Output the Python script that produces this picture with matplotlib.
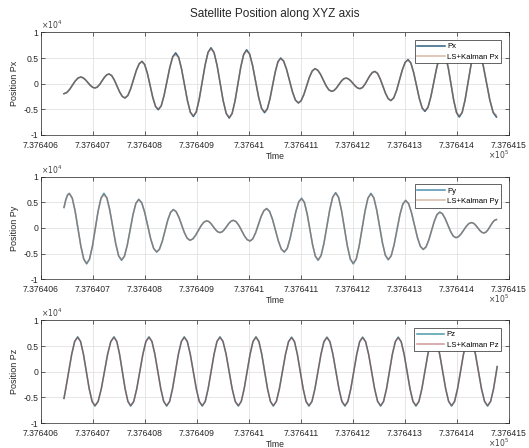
import numpy as np
import matplotlib
matplotlib.use("Agg")
import matplotlib.pyplot as plt
from matplotlib.ticker import FuncFormatter

plt.rcParams["font.family"] = ["Liberation Sans", "DejaVu Sans"]

# time axis is a MATLAB datenum (days); offsets below are days after T0
T0 = 737640.6

# ---- Px, top panel (one row per half swing, starting at a turning point)
px_t = [0.0442, 0.0496, 0.0549, 0.0603, 0.0656, 0.0710,
        0.0763, 0.0809, 0.0855, 0.0901, 0.0946, 0.0992,
        0.1038, 0.1083, 0.1128, 0.1173, 0.1218, 0.1263,
        0.1308, 0.1359, 0.1410, 0.1462, 0.1513, 0.1564,
        0.1615, 0.1670, 0.1724, 0.1779, 0.1833, 0.1888,
        0.1942, 0.1994, 0.2047, 0.2099, 0.2151, 0.2204,
        0.2256, 0.2312, 0.2367, 0.2423, 0.2479, 0.2534,
        0.2590, 0.2647, 0.2703, 0.2760, 0.2817, 0.2873,
        0.2930, 0.2987, 0.3043, 0.3100, 0.3157, 0.3213,
        0.3270, 0.3328, 0.3387, 0.3445, 0.3503, 0.3562,
        0.3620, 0.3676, 0.3732, 0.3788, 0.3843, 0.3899,
        0.3955, 0.4013, 0.4070, 0.4128, 0.4185, 0.4243,
        0.4300, 0.4352, 0.4403, 0.4455, 0.4507, 0.4558,
        0.4610, 0.4667, 0.4723, 0.4780, 0.4837, 0.4893,
        0.4950, 0.5003, 0.5057, 0.5110, 0.5163, 0.5217,
        0.5270, 0.5323, 0.5377, 0.5430, 0.5483, 0.5537,
        0.5590, 0.5636, 0.5682, 0.5728, 0.5773, 0.5819,
        0.5865, 0.5910, 0.5955, 0.6000, 0.6045, 0.6090,
        0.6135, 0.6183, 0.6230, 0.6278, 0.6325, 0.6373,
        0.6420, 0.6472, 0.6523, 0.6575, 0.6627, 0.6678,
        0.6730, 0.6785, 0.6840, 0.6895, 0.6950, 0.7005,
        0.7060, 0.7114, 0.7168, 0.7223, 0.7277, 0.7331,
        0.7385, 0.7443, 0.7500, 0.7558, 0.7615, 0.7673,
        0.7730, 0.7783, 0.7835, 0.7888, 0.7940, 0.7993,
        0.8045, 0.8101, 0.8157, 0.8213, 0.8268, 0.8324,
        0.8380, 0.8443, 0.8507, 0.8570, 0.8633, 0.8697,
        0.8760]
px_meas = [-1950, -1732, -1138, -325, 488, 1082,
           1300, 1157, 765, 230, -305, -697,
           -840, -656, -155, 530, 1215, 1716,
           1900, 1585, 725, -450, -1625, -2485,
           -2800, -2320, -1010, 780, 2570, 3880,
           4360, 3728, 2000, -360, -2720, -4448,
           -5080, -4338, -2310, 460, 3230, 5258,
           6000, 5169, 2900, -200, -3300, -5569,
           -6400, -5502, -3050, 300, 3650, 6102,
           7000, 6082, 3575, 150, -3275, -5782,
           -6700, -5809, -3375, -50, 3275, 5709,
           6600, 5779, 3538, 475, -2588, -4829,
           -5650, -4936, -2988, -325, 2338, 4286,
           5000, 4412, 2808, 615, -1578, -3182,
           -3770, -3321, -2095, -420, 1255, 2481,
           2930, 2633, 1823, 715, -393, -1203,
           -1500, -1326, -850, -200, 450, 926,
           1100, 961, 580, 60, -460, -841,
           -980, -754, -135, 710, 1555, 2174,
           2400, 2018, 975, -450, -1875, -2918,
           -3300, -2764, -1300, 700, 2700, 4164,
           4700, 4023, 2175, -350, -2875, -4723,
           -5400, -4623, -2500, 400, 3300, 5423,
           6200, 5349, 3025, -150, -3325, -5649,
           -6500, -5609, -3175, 150, 3475, 5909,
           6800, 5909, 3475, 150, -3175, -5609,
           -6500]
# the LS+Kalman curve sits on top of Px except at the turning points
px_kal_turns = [-1950, 1280, -830, 1870, -2750, 4250, -4950, 5600, -6200,
                6800, -6550, 6350, -5450, 4850, -3700, 2880, -1480, 1080,
                -960, 2350, -3250, 4600, -5250, 6000, -6250, 6550, -6150]

# ---- Py, middle panel
py_t = [0.0442, 0.0477, 0.0511,
        0.0545, 0.0601, 0.0656, 0.0712, 0.0767, 0.0823,
        0.0878, 0.0933, 0.0989, 0.1044, 0.1099, 0.1155,
        0.1210, 0.1267, 0.1323, 0.1380, 0.1437, 0.1493,
        0.1550, 0.1605, 0.1660, 0.1715, 0.1770, 0.1825,
        0.1880, 0.1938, 0.1995, 0.2053, 0.2110, 0.2168,
        0.2225, 0.2278, 0.2332, 0.2385, 0.2438, 0.2492,
        0.2545, 0.2598, 0.2652, 0.2705, 0.2758, 0.2812,
        0.2865, 0.2919, 0.2972, 0.3026, 0.3080, 0.3133,
        0.3187, 0.3230, 0.3272, 0.3315, 0.3357, 0.3400,
        0.3442, 0.3485, 0.3528, 0.3571, 0.3614, 0.3657,
        0.3700, 0.3753, 0.3807, 0.3860, 0.3913, 0.3967,
        0.4020, 0.4073, 0.4127, 0.4180, 0.4233, 0.4287,
        0.4340, 0.4397, 0.4453, 0.4510, 0.4567, 0.4623,
        0.4680, 0.4736, 0.4791, 0.4847, 0.4902, 0.4958,
        0.5013, 0.5066, 0.5119, 0.5172, 0.5224, 0.5277,
        0.5330, 0.5386, 0.5442, 0.5499, 0.5555, 0.5611,
        0.5667, 0.5724, 0.5780, 0.5837, 0.5893, 0.5950,
        0.6006, 0.6063, 0.6119, 0.6176, 0.6233, 0.6289,
        0.6346, 0.6402, 0.6457, 0.6513, 0.6569, 0.6624,
        0.6680, 0.6736, 0.6791, 0.6847, 0.6902, 0.6958,
        0.7013, 0.7070, 0.7126, 0.7183, 0.7239, 0.7296,
        0.7352, 0.7405, 0.7458, 0.7511, 0.7564, 0.7617,
        0.7670, 0.7722, 0.7773, 0.7825, 0.7877, 0.7928,
        0.7980, 0.8030, 0.8080, 0.8130, 0.8180, 0.8230,
        0.8280, 0.8320, 0.8360, 0.8400, 0.8440, 0.8480,
        0.8520, 0.8560, 0.8600, 0.8640, 0.8680, 0.8720,
        0.8760]
py_meas = [4000, 5500, 6450,
           6750, 5829, 3313, -125, -3563, -6079,
           -7000, -6079, -3563, -125, 3313, 5829,
           6750, 5876, 3488, 225, -3038, -5426,
           -6300, -5503, -3325, -350, 2625, 4803,
           5600, 4910, 3025, 450, -2125, -4010,
           -4700, -4144, -2625, -550, 1525, 3044,
           3600, 3198, 2100, 600, -900, -1998,
           -2400, -2145, -1450, -500, 450, 1145,
           1400, 1246, 825, 250, -325, -746,
           -900, -739, -300, 300, 900, 1339,
           1500, 1229, 488, -525, -1538, -2279,
           -2550, -2125, -963, 625, 2213, 3375,
           3800, 3231, 1675, -450, -2575, -4131,
           -4700, -3997, -2075, 550, 3175, 5097,
           5800, 4989, 2775, -250, -3275, -5489,
           -6300, -5416, -3000, 300, 3600, 6016,
           6900, 5969, 3425, -50, -3525, -6069,
           -7000, -6079, -3563, -125, 3313, 5829,
           6750, 5882, 3513, 275, -2963, -5332,
           -6200, -5423, -3300, -400, 2500, 4623,
           5400, 4757, 3000, 600, -1800, -3557,
           -4200, -3711, -2375, -550, 1275, 2611,
           3100, 2765, 1850, 600, -650, -1565,
           -1900, -1702, -1160, -420, 320, 862,
           1060, 923, 550, 40, -470, -843,
           -980, -804, -323, 335, 993, 1474,
           1650]
py_kal_turns = [6650, -6850, 6450, -6150, 5500, -4650, 3550, -2380, 1380,
                -890, 1480, -2520, 3750, -4650, 5700, -6200, 6750, -6850,
                6600, -6100, 5300, -4150, 3050, -1880, 1040, -970, 1620]

# ---- Pz, bottom panel
pz_t = [0.0442, 0.0476, 0.0534, 0.0591, 0.0648,
        0.0705, 0.0761, 0.0816, 0.0872, 0.0927, 0.0983,
        0.1038, 0.1099, 0.1160, 0.1221, 0.1282, 0.1343,
        0.1404, 0.1458, 0.1511, 0.1565, 0.1618, 0.1672,
        0.1725, 0.1784, 0.1842, 0.1901, 0.1960, 0.2018,
        0.2077, 0.2134, 0.2190, 0.2247, 0.2304, 0.2360,
        0.2417, 0.2474, 0.2530, 0.2587, 0.2643, 0.2700,
        0.2756, 0.2814, 0.2871, 0.2929, 0.2987, 0.3044,
        0.3102, 0.3159, 0.3215, 0.3272, 0.3329, 0.3385,
        0.3442, 0.3501, 0.3560, 0.3619, 0.3677, 0.3736,
        0.3795, 0.3852, 0.3908, 0.3965, 0.4022, 0.4078,
        0.4135, 0.4191, 0.4246, 0.4302, 0.4357, 0.4413,
        0.4468, 0.4527, 0.4585, 0.4644, 0.4703, 0.4761,
        0.4820, 0.4876, 0.4931, 0.4987, 0.5043, 0.5098,
        0.5154, 0.5212, 0.5269, 0.5327, 0.5385, 0.5442,
        0.5500, 0.5558, 0.5615, 0.5673, 0.5731, 0.5788,
        0.5846, 0.5903, 0.5959, 0.6016, 0.6073, 0.6129,
        0.6186, 0.6244, 0.6302, 0.6360, 0.6417, 0.6475,
        0.6533, 0.6589, 0.6646, 0.6702, 0.6758, 0.6815,
        0.6871, 0.6928, 0.6985, 0.7042, 0.7098, 0.7155,
        0.7212, 0.7269, 0.7326, 0.7384, 0.7441, 0.7498,
        0.7555, 0.7612, 0.7669, 0.7727, 0.7784, 0.7841,
        0.7898, 0.7955, 0.8012, 0.8069, 0.8126, 0.8183,
        0.8240, 0.8298, 0.8357, 0.8415, 0.8473, 0.8532,
        0.8590, 0.8648, 0.8705, 0.8775]
pz_meas = [-5200, -3325, 50, 3425, 5896,
           6800, 5896, 3425, 50, -3325, -5796,
           -6700, -5796, -3325, 50, 3425, 5896,
           6800, 5896, 3425, 50, -3325, -5796,
           -6700, -5796, -3325, 50, 3425, 5896,
           6800, 5896, 3425, 50, -3325, -5796,
           -6700, -5796, -3325, 50, 3425, 5896,
           6800, 5896, 3425, 50, -3325, -5796,
           -6700, -5796, -3325, 50, 3425, 5896,
           6800, 5896, 3425, 50, -3325, -5796,
           -6700, -5796, -3325, 50, 3425, 5896,
           6800, 5896, 3425, 50, -3325, -5796,
           -6700, -5799, -3338, 25, 3388, 5849,
           6750, 5849, 3388, 25, -3338, -5799,
           -6700, -5799, -3338, 25, 3388, 5849,
           6750, 5849, 3388, 25, -3338, -5799,
           -6700, -5799, -3338, 25, 3388, 5849,
           6750, 5849, 3388, 25, -3338, -5799,
           -6700, -5799, -3338, 25, 3388, 5849,
           6750, 5849, 3388, 25, -3338, -5799,
           -6700, -5799, -3338, 25, 3388, 5849,
           6750, 5849, 3388, 25, -3338, -5799,
           -6700, -5799, -3338, 25, 3388, 5849,
           6750, 5849, 3388, 25, -3338, -5799,
           -6700, -5799, -3338, 1000]
pz_kal_turns = [6700, -6600, 6700, -6600, 6700, -6600, 6700, -6600,
                6700, -6600, 6700, -6600, 6650, -6600, 6650, -6600,
                6650, -6600, 6650, -6600, 6650, -6600, 6650, -6600]

# Kalman lists: same as the measured ones, turning points swapped in
px_kal = np.array(px_meas, dtype=float)
px_kal[0::6] = px_kal_turns
py_kal = np.array(py_meas, dtype=float)
py_kal[3::6] = py_kal_turns
pz_kal = np.array(pz_meas, dtype=float)
pz_kal[5:144:6] = pz_kal_turns

panels = [
    ("Px", px_t, px_meas, px_kal, "#2f5f80", "#b07050"),
    ("Py", py_t, py_meas, py_kal, "#4f8fb0", "#b07050"),
    ("Pz", pz_t, pz_meas, pz_kal, "#4a9aa5", "#a03030"),
]

fig = plt.figure(figsize=(5.29, 4.48), dpi=100)
fig.patch.set_facecolor("white")

left, width, height = 0.0775, 0.8845, 0.229
bottoms = [0.6987, 0.3766, 0.0558]

xfmt = FuncFormatter(lambda v, pos: "{:.7g}".format(round(v / 1e5, 7)))
yfmt = FuncFormatter(lambda v, pos: "{:g}".format(v / 1e4))

for (name, t, meas, kal, c1, c2), b in zip(panels, bottoms):
    ax = fig.add_axes([left, b, width, height])
    t = T0 + np.array(t)
    ax.plot(t, meas, color=c1, lw=1.1, label=name)
    ax.plot(t, kal, color=c2, lw=1.1, alpha=0.5, label="LS+Kalman " + name)

    ax.set_xlim(T0, T0 + 0.9)
    ax.set_ylim(-10000, 10000)
    ax.set_xticks(T0 + np.arange(10) * 0.1)
    ax.set_yticks([-10000, -5000, 0, 5000, 10000])
    ax.xaxis.set_major_formatter(xfmt)
    ax.yaxis.set_major_formatter(yfmt)
    ax.tick_params(direction="in", length=3, width=0.5, labelsize=6.2,
                   top=True, right=True, pad=2, colors="#262626")
    ax.tick_params(axis="x", pad=4)
    ax.grid(True, color="#dcdcdc", lw=0.5)
    ax.set_axisbelow(True)
    for s in ax.spines.values():
        s.set_linewidth(0.5)
        s.set_color("#262626")

    ax.set_xlabel("Time", fontsize=6.2, labelpad=1.5, color="#262626")
    ax.set_ylabel("Position " + name, fontsize=6.5, labelpad=3, color="#262626")
    ax.text(0.0, 1.01, r"$\times10^{4}$", transform=ax.transAxes,
            fontsize=5.5, ha="left", va="bottom", color="#404040")
    ax.text(1.0, -0.13, r"$\times10^{5}$", transform=ax.transAxes,
            fontsize=5.5, ha="right", va="top", color="#404040")

    leg = ax.legend(loc="upper right", fontsize=5.6, handlelength=3.5,
                    handletextpad=0.3, borderpad=0.35, labelspacing=0.35,
                    borderaxespad=1.0, fancybox=False, framealpha=1)
    leg.get_frame().set_edgecolor("#262626")
    leg.get_frame().set_linewidth(0.5)

    if name == "Px":
        ax.set_title("Satellite Position along XYZ axis", fontsize=8.5,
                     pad=11, color="#262626")

fig.savefig("out.png", dpi=100)
